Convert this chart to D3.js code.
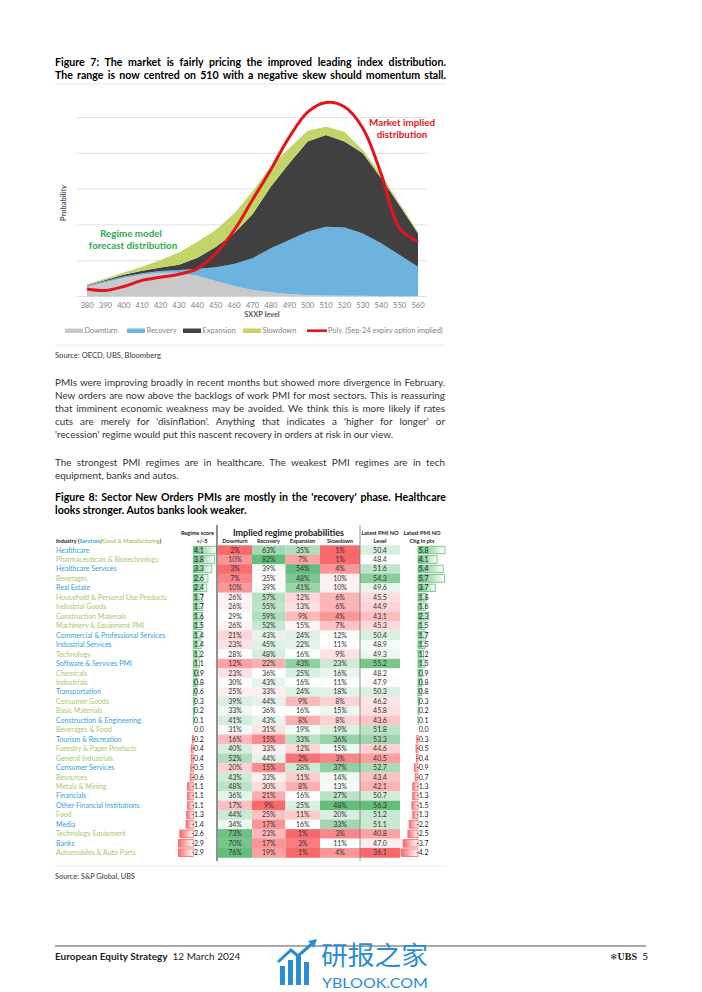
<!DOCTYPE html>
<html><head><meta charset="utf-8">
<script src="https://cdn.jsdelivr.net/npm/d3@7"></script>
<style>body{margin:0;background:#fff}svg{display:block}</style>
</head><body>
<svg id="page" width="702" height="992"></svg>
<script>
// ---------------- DATA: Figure 7 ----------------
const levels = [380,390,400,410,420,430,440,450,460,470,480,490,500,510,520,530,540,550,560];
const downturn  = [.27,.40,.52,.61,.66,.66,.57,.43,.29,.18,.12,.07,.04,.03,.02,.02,.01,.01,.01];
const recovery  = [.02,.03,.04,.04,.05,.08,.20,.39,.62,.89,1.23,1.51,1.77,1.92,1.91,1.74,1.48,1.15,.82];
const expansion = [.02,.03,.05,.07,.10,.15,.31,.56,.86,1.23,1.72,2.14,2.52,2.56,2.40,2.24,1.81,1.38,.93];
const slowdown  = [.03,.04,.06,.11,.21,.34,.45,.48,.55,.63,.57,.42,.30,.23,.27,.09,.10,.06,.05];
const optionImplied = [.21,.17,.28,.45,.54,.62,.78,1.20,1.85,2.70,3.55,4.45,5.15,5.42,5.30,4.70,3.42,1.90,1.53];
const seriesNames = ["Downturn","Recovery","Expansion","Slowdown"];
const lineName = "Poly. (Sep-24 expiry option implied)";

// ---------------- DATA: Figure 8 ----------------
const industries = ["Healthcare","Pharmaceuticals & Biotechnology","Healthcare Services","Beverages","Real Estate",
 "Household & Personal Use Products","Industrial Goods","Construction Materials","Machinery & Equipment PMI",
 "Commercial & Professional Services","Industrial Services","Technology","Software & Services PMI","Chemicals",
 "Industrials","Transportation","Consumer Goods","Basic Materials","Construction & Engineering","Beverages & Food",
 "Tourism & Recreation","Forestry & Paper Products","General Industrials","Consumer Services","Resources",
 "Metals & Mining","Financials","Other Financial Institutions","Food","Media","Technology Equipment","Banks",
 "Automobiles & Auto Parts"];
const industryType = ["S","G","S","G","S","G","G","G","G","S","S","G","S","G","G","S","G","G","S","G","S","G","G","S","G","G","S","S","G","S","G","S","G"];
const regimeScore = [4.1,3.8,3.3,2.6,2.4,1.7,1.7,1.6,1.5,1.4,1.4,1.2,1.1,0.9,0.8,0.6,0.3,0.2,0.1,0.0,-0.2,-0.4,-0.4,-0.5,-0.6,-1.1,-1.1,-1.1,-1.3,-1.4,-2.6,-2.9,-2.9];
const probDownturn  = [2,10,3,7,10,26,26,29,26,21,23,28,12,23,30,25,39,33,41,31,16,40,52,20,43,48,36,17,44,34,73,70,76];
const probRecovery  = [63,82,39,35,39,57,55,59,52,43,45,48,22,36,43,33,44,36,43,31,15,33,44,15,33,30,21,9,25,17,23,17,19];
const probExpansion = [35,7,54,48,41,12,13,9,15,24,22,16,43,25,16,24,9,16,8,19,33,12,2,28,11,8,16,25,11,16,1,3,1];
const probSlowdown  = [1,1,4,10,10,6,6,4,7,12,11,9,23,16,11,18,8,15,8,19,36,15,3,37,14,13,27,48,20,33,3,11,4];
const pmiLevel = [50.4,48.4,51.6,54.3,49.6,45.5,44.9,43.1,45.3,50.4,48.9,49.3,55.2,48.2,47.9,50.3,46.2,45.8,43.6,51.8,53.3,44.6,40.5,52.7,43.4,42.1,50.7,56.3,51.2,51.1,40.8,47.0,36.1];
const pmiChg = [5.8,4.1,5.4,5.7,3.7,1.8,1.6,2.3,1.5,1.7,1.5,1.2,1.5,0.9,0.8,0.8,0.3,0.2,0.1,0.0,-0.3,-0.5,-0.4,-0.9,-0.7,-1.3,-1.3,-1.5,-1.3,-2.2,-2.5,-3.7,-4.2];
const probHeaders = ["Downturn","Recovery","Expansion","Slowdown"];

// ---------------- TEXT ----------------
const fig7Title = ["Figure 7: The market is fairly pricing the improved leading index distribution.",
 "The range is now centred on 510 with a negative skew should momentum stall."];
const paragraph1 = ["PMIs were improving broadly in recent months but showed more divergence in February.",
 "New orders are now above the backlogs of work PMI for most sectors. This is reassuring",
 "that imminent economic weakness may be avoided. We think this is more likely if rates",
 "cuts are merely for 'disinflation'. Anything that indicates a 'higher for longer' or",
 "'recession' regime would put this nascent recovery in orders at risk in our view."];
const paragraph2 = ["The strongest PMI regimes are in healthcare. The weakest PMI regimes are in tech",
 "equipment, banks and autos."];
const fig8Title = ["Figure 8: Sector New Orders PMIs are mostly in the 'recovery' phase. Healthcare",
 "looks stronger. Autos banks look weaker."];

// ---------------- RENDER ----------------
const FONT = "Lato, 'Open Sans', sans-serif";
const svg = d3.select("#page").style("font-family", FONT);
svg.append("rect").attr("width",702).attr("height",992).attr("fill","#fff");

function fit(t, w, justify){
  const len = t.node().getComputedTextLength();
  if (len > w) t.attr("textLength", w).attr("lengthAdjust","spacingAndGlyphs");
  else if (justify){
    const n = (t.text().match(/ /g)||[]).length;
    if (n) t.style("word-spacing", ((w-len)/n).toFixed(2)+"px");
  }
}
function lines(arr, x, y0, dy, size, weight, color, width, justifyAll){
  arr.forEach((s,i)=>{
    const t = svg.append("text").attr("x",x).attr("y",y0+i*dy).attr("font-size",size)
      .attr("font-weight",weight).attr("fill",color).text(s);
    const last = i===arr.length-1;
    if (!last || justifyAll) fit(t, width, true); else fit(t, width, false);
  });
}

// Figure 7 title
lines(fig7Title, 55, 65.5, 13, 10.6, 700, "#000", 391, true);
svg.append("line").attr("x1",55).attr("x2",446).attr("y1",84).attr("y2",84).attr("stroke","#e6e6e6").attr("stroke-width",1);

// Chart
const x = d3.scaleLinear().domain([380,560]).range([87,418]);
const y = d3.scaleLinear().domain([0,5]).range([296.5,117.5]);
const gGrid = svg.append("g");
gGrid.selectAll("line").data(d3.range(0,6)).join("line")
  .attr("x1",77).attr("x2",427).attr("y1",d=>y(d)).attr("y2",d=>y(d))
  .attr("stroke","#d9d9d9").attr("stroke-width",0.8);

const rows7 = levels.map((l,i)=>({level:l, Downturn:downturn[i], Recovery:recovery[i], Expansion:expansion[i], Slowdown:slowdown[i]}));
const stack = d3.stack().keys(seriesNames)(rows7);
const colors = {Downturn:"#c9c9c9", Recovery:"#6cb3e0", Expansion:"#404040", Slowdown:"#c3d468"};
const area = d3.area().x(d=>x(d.data.level)).y0(d=>y(d[0])).y1(d=>y(d[1]));
svg.append("g").selectAll("path").data(stack).join("path")
  .attr("d", area).attr("fill", d=>colors[d.key]);
const redLine = d3.line().x((d,i)=>x(levels[i])).y(d=>y(d)).curve(d3.curveCatmullRom.alpha(0.5));
svg.append("path").attr("d", redLine(optionImplied)).attr("fill","none")
  .attr("stroke","#e3141b").attr("stroke-width",3);

// x ticks
svg.append("g").selectAll("text").data(levels).join("text")
  .attr("x",d=>x(d)).attr("y",307.5).attr("text-anchor","middle").attr("font-size",7.6)
  .attr("fill","#808080").text(d=>d);
svg.append("text").attr("x",262).attr("y",317).attr("text-anchor","middle").attr("font-size",7.4)
  .attr("font-weight",700).attr("fill","#595959").text("SXXP level");
svg.append("text").attr("transform","translate(66,203) rotate(-90)").attr("text-anchor","middle")
  .attr("font-size",7.4).attr("font-weight",700).attr("fill","#595959").text("Probability");

// annotations
svg.append("text").attr("x",402).attr("y",126).attr("text-anchor","middle").attr("font-size",9.8)
  .attr("font-weight",700).attr("fill","#e3141b").text("Market implied");
svg.append("text").attr("x",402).attr("y",138).attr("text-anchor","middle").attr("font-size",9.8)
  .attr("font-weight",700).attr("fill","#e3141b").text("distribution");
svg.append("text").attr("x",131).attr("y",237).attr("text-anchor","middle").attr("font-size",9.8)
  .attr("font-weight",700).attr("fill","#2eaa4f").text("Regime model");
svg.append("text").attr("x",133).attr("y",249).attr("text-anchor","middle").attr("font-size",9.8)
  .attr("font-weight",700).attr("fill","#2eaa4f").text("forecast distribution");

// legend
const legendX = [65,127,183,243];
seriesNames.forEach((k,i)=>{
  svg.append("rect").attr("x",legendX[i]).attr("y",328.5).attr("width",18).attr("height",4.5).attr("fill",colors[k]);
  svg.append("text").attr("x",legendX[i]+19.5).attr("y",333.3).attr("font-size",7.4).attr("fill","#7f7f7f").text(k);
});
svg.append("line").attr("x1",307).attr("x2",327).attr("y1",330.7).attr("y2",330.7).attr("stroke","#e3141b").attr("stroke-width",2.6);
svg.append("text").attr("x",328).attr("y",333.3).attr("font-size",7.4).attr("fill","#7f7f7f").text(lineName);

svg.append("line").attr("x1",55).attr("x2",446).attr("y1",345).attr("y2",345).attr("stroke","#ececec");
svg.append("text").attr("x",55).attr("y",358).attr("font-size",7.6).attr("fill","#333").text("Source: OECD, UBS, Bloomberg");

// paragraphs
lines(paragraph1, 55, 385.5, 13, 9.9, 400, "#333", 390, false);
lines(paragraph2, 55, 465.5, 13, 9.9, 400, "#333", 390, false);

// Figure 8 title
lines(fig8Title, 55, 500.5, 13, 10.6, 700, "#000", 391, false);

// ---------------- TABLE ----------------
const defs = svg.append("defs");
function grad(id, c){
  const g = defs.append("linearGradient").attr("id",id).attr("x1","0").attr("x2","1").attr("y1","0").attr("y2","0");
  g.append("stop").attr("offset","0%").attr("stop-color",c);
  g.append("stop").attr("offset","100%").attr("stop-color","#fff");
}
grad("gGreen","#63be7b"); grad("gRed","#f8696b");

const blue = "#2f9fd9", green = "#a9c66d";
const band = d3.scaleBand().domain(d3.range(industries.length)).range([545.3, 545.3+industries.length*9.46]);
const bh = band.bandwidth();

// header
const hdr = svg.append("text").attr("x",56).attr("y",543).attr("font-size",5.6).attr("font-weight",700).attr("fill","#222");
hdr.append("tspan").text("Industry (");
hdr.append("tspan").attr("fill",blue).text("Services");
hdr.append("tspan").text("/");
hdr.append("tspan").attr("fill",green).text("Good & Manufacturing");
hdr.append("tspan").text(")");
svg.append("text").attr("x",214).attr("y",535).attr("text-anchor","end").attr("font-size",5.6).attr("font-weight",700).attr("fill","#222").text("Regime score");
svg.append("text").attr("x",202).attr("y",543).attr("text-anchor","middle").attr("font-size",5.6).attr("font-weight",700).attr("fill","#222").text("+/-5");
svg.append("text").attr("x",288.5).attr("y",535.5).attr("text-anchor","middle").attr("font-size",9).attr("font-weight",700).attr("fill","#222").text("Implied regime probabilities");
svg.append("text").attr("x",380).attr("y",535).attr("text-anchor","middle").attr("font-size",5.6).attr("font-weight",700).attr("fill","#222").text("Latest PMI NO");
svg.append("text").attr("x",380).attr("y",543).attr("text-anchor","middle").attr("font-size",5.6).attr("font-weight",700).attr("fill","#222").text("Level");
svg.append("text").attr("x",422).attr("y",535).attr("text-anchor","middle").attr("font-size",5.6).attr("font-weight",700).attr("fill","#222").text("Latest PMI NO");
svg.append("text").attr("x",422).attr("y",543).attr("text-anchor","middle").attr("font-size",5.6).attr("font-weight",700).attr("fill","#222").text("Chg in pts");

// names
svg.append("g").selectAll("text").data(industries).join("text")
  .attr("x",56).attr("y",(d,i)=>band(i)+bh/2+2.5).attr("font-size",7)
  .attr("fill",(d,i)=>industryType[i]==="S"?blue:green).text(d=>d);

// heatmap columns
const heatCols = [
  {vals:probDownturn,  x0:218, x1:252, fmt:d=>d+"%"},
  {vals:probRecovery,  x0:252, x1:285.5, fmt:d=>d+"%"},
  {vals:probExpansion, x0:285.5, x1:320, fmt:d=>d+"%"},
  {vals:probSlowdown,  x0:320, x1:360, fmt:d=>d+"%"},
  {vals:pmiLevel, x0:360, x1:400, fmt:d3.format(".1f")}
];
const subX = [235,268.5,302.5,340];
probHeaders.forEach((h,i)=>svg.append("text").attr("x",subX[i]).attr("y",543).attr("text-anchor","middle")
  .attr("font-size",5.6).attr("font-weight",700).attr("fill","#222").text(h));

heatCols.forEach(col=>{
  const c = d3.scaleLinear().domain([d3.min(col.vals), d3.median(col.vals), d3.max(col.vals)])
    .range(["#f8696b","#ffffff","#63be7b"]);
  const g = svg.append("g");
  g.selectAll("rect").data(col.vals).join("rect")
    .attr("x",col.x0).attr("width",col.x1-col.x0).attr("y",(d,i)=>band(i)).attr("height",bh+0.3)
    .attr("fill",d=>c(d));
  g.selectAll("text").data(col.vals).join("text")
    .attr("x",(col.x0+col.x1)/2).attr("y",(d,i)=>band(i)+bh/2+2.5).attr("text-anchor","middle")
    .attr("font-size",7).attr("fill","#333").text(col.fmt);
});

// data bars
function dataBars(vals, axisX, negLen, posLen){
  const s = d3.scaleLinear().domain([d3.min(vals),0,d3.max(vals)]).range([axisX-negLen, axisX, axisX+posLen]);
  const g = svg.append("g");
  vals.forEach((v,i)=>{
    if (v!==0){
      const x0 = Math.min(s(v), axisX), w = Math.abs(s(v)-axisX);
      g.append("rect").attr("x",x0).attr("y",band(i)+bh/2-3.8).attr("width",w).attr("height",7.6)
        .attr("fill", v>0?"url(#gGreen)":"url(#gRed)").attr("stroke", v>0?"#63be7b":"#f8696b").attr("stroke-width",0.8);
    }
    const t = g.append("text").attr("y",band(i)+bh/2+2.5).attr("font-size",7).attr("fill","#222")
      .text(d3.format(".1f")(v).replace("\u2212","-"));
    let off = 0;
    if (v<0) off = t.node().getSubStringLength(0,1);
    t.attr("x", axisX+0.8-off);
  });
}
dataBars(regimeScore, 193.3, 15, 23);
dataBars(pmiChg, 418, 17, 27);

// dividers
svg.append("line").attr("x1",217).attr("x2",217).attr("y1",525).attr("y2",861).attr("stroke","#555").attr("stroke-width",1.3);
svg.append("line").attr("x1",360).attr("x2",360).attr("y1",525).attr("y2",861).attr("stroke","#777").attr("stroke-width",0.8);

svg.append("line").attr("x1",55).attr("x2",446).attr("y1",866).attr("y2",866).attr("stroke","#ececec");
svg.append("text").attr("x",55).attr("y",879).attr("font-size",7.4).attr("fill","#333").text("Source: S&P Global, UBS");

// ---------------- FOOTER ----------------
svg.append("line").attr("x1",55).attr("x2",646).attr("y1",946).attr("y2",946).attr("stroke","#8c8c8c").attr("stroke-width",1.5);
const ft = svg.append("text").attr("x",55).attr("y",960).attr("font-size",10).attr("fill","#222");
ft.append("tspan").attr("font-weight",700).text("European Equity Strategy");
ft.append("tspan").attr("dx",5).text("12 March 2024");
const ubs = svg.append("text").attr("x",637).attr("y",960).attr("text-anchor","end").attr("font-size",10).attr("fill","#222");
ubs.append("tspan").attr("font-family","'DejaVu Sans'").attr("font-size",9).text("\u2744");
ubs.append("tspan").attr("font-family","'Liberation Serif', serif").attr("font-weight",700).text("UBS");
svg.append("text").attr("x",648).attr("y",960).attr("text-anchor","end").attr("font-size",10).attr("fill","#222").text("5");

// watermark
const wm = "#2a8dd4";
const wg = svg.append("g");
[[280,966,5,19],[288,960,5,25],[296,956,5,29],[304,962,5,23]].forEach(r=>
  wg.append("rect").attr("x",r[0]).attr("y",r[1]).attr("width",r[2]).attr("height",r[3]).attr("fill",wm));
wg.append("path").attr("d","M278,962 L291,950 L298,956 L314,942").attr("fill","none").attr("stroke",wm).attr("stroke-width",3);
wg.append("path").attr("d","M308,941 L317,939 L314,948 Z").attr("fill",wm);
svg.append("text").attr("x",321).attr("y",965).attr("font-size",26.5).attr("font-family","'Noto Sans CJK SC'").attr("fill",wm).attr("textLength",107).attr("lengthAdjust","spacingAndGlyphs").text("研报之家");
svg.append("text").attr("x",322).attr("y",988).attr("font-size",13).attr("fill",wm).attr("textLength",106).attr("lengthAdjust","spacingAndGlyphs").text("YBLOOK.COM");
</script>
</body></html>
